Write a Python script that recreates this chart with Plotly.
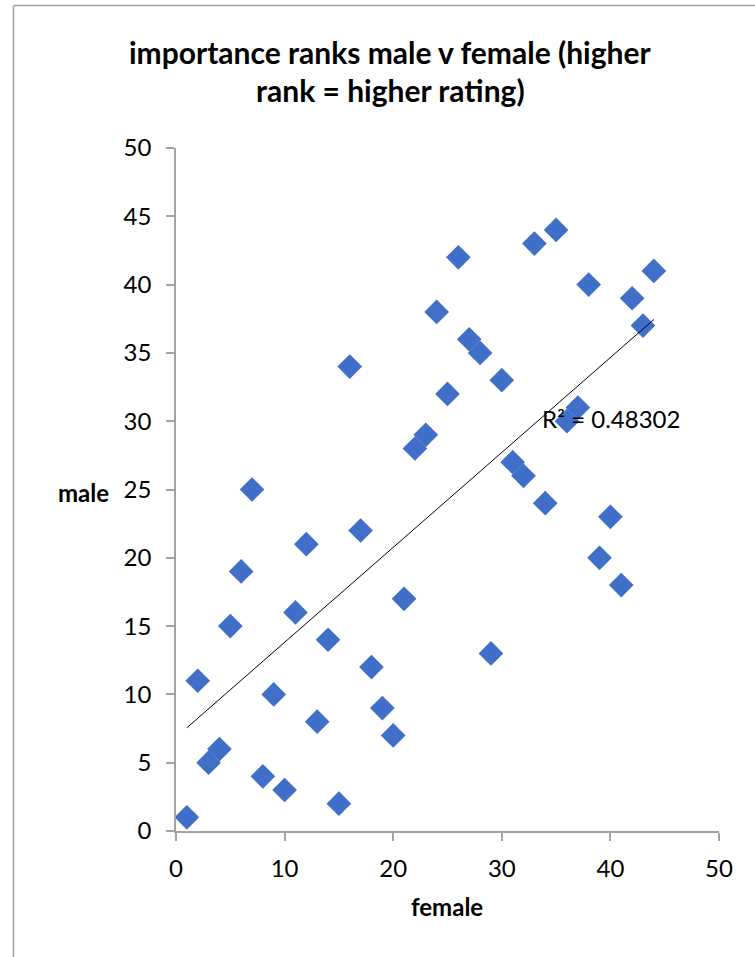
import numpy as np
import plotly.graph_objects as go

# Data (female rank, male rank)
female = list(range(1, 45))
male = [1, 11, 5, 6, 15, 19, 25, 4, 10, 3, 16, 21, 8, 14, 2, 34, 22, 12, 9, 7,
        17, 28, 29, 38, 32, 42, 36, 35, 13, 33, 27, 26, 43, 24, 44, 30, 31, 40,
        20, 23, 18, 39, 37, 41]
r2_label = "R² = 0.48302"
title_lines = ["importance ranks male v female (higher", "rank = higher rating)"]
x_ticks = [0, 10, 20, 30, 40, 50]
y_ticks = [0, 5, 10, 15, 20, 25, 30, 35, 40, 45, 50]

W, H = 755, 957
L, R, T, B = 176, 36, 148, 126
pw, ph = W - L - R, H - T - B

def px_x(p):
    return (p - L) / pw

def px_y(p):
    return (H - B - p) / ph

slope, intercept = np.polyfit(female, male, 1)
fx = np.array([min(female), max(female)])
fy = slope * fx + intercept

FONT = "Lato"
AX = "#a3a3a3"
FS = 24

fig = go.Figure()
fig.add_trace(go.Scatter(
    x=female, y=male, mode="markers",
    marker=dict(symbol="diamond", size=19, color="#3f6fc8",
                line=dict(width=0)),
    hoverinfo="skip", showlegend=False))
fig.add_trace(go.Scatter(
    x=fx, y=fy, mode="lines", line=dict(color="black", width=1),
    hoverinfo="skip", showlegend=False))

fig.update_layout(
    width=W, height=H,
    margin=dict(l=L, r=R, t=T, b=B, pad=0),
    paper_bgcolor="white", plot_bgcolor="white",
    font=dict(family=FONT, size=FS, color="black"),
    xaxis=dict(range=[0, 50], tickvals=x_ticks, showgrid=False, zeroline=False,
               showline=True, linecolor=AX, linewidth=1.5,
               ticks="outside", ticklen=8, tickcolor=AX, tickwidth=1.5,
               ticklabelstandoff=7,
               tickfont=dict(family=FONT, size=FS, color="black")),
    yaxis=dict(range=[0, 50], tickvals=y_ticks, showgrid=False, zeroline=False,
               showline=True, linecolor=AX, linewidth=1.5,
               ticks="outside", ticklen=8, tickcolor=AX, tickwidth=1.5,
               ticklabelstandoff=10,
               tickfont=dict(family=FONT, size=FS, color="black")),
    shapes=[
        dict(type="line", xref="paper", yref="paper",
             x0=px_x(13.5), x1=px_x(13.5), y0=px_y(970), y1=px_y(5.5),
             line=dict(color=AX, width=1.5)),
        dict(type="line", xref="paper", yref="paper",
             x0=px_x(13.5), x1=px_x(770), y0=px_y(5.5), y1=px_y(5.5),
             line=dict(color=AX, width=1.5)),
    ],
    annotations=[
        dict(text=title_lines[0], xref="paper", yref="paper",
             x=px_x(390.5), y=px_y(52), xanchor="center", yanchor="middle",
             showarrow=False, font=dict(family=FONT, size=30, color="black", weight="bold")),
        dict(text=title_lines[1], xref="paper", yref="paper",
             x=px_x(390.5), y=px_y(90), xanchor="center", yanchor="middle",
             showarrow=False, font=dict(family=FONT, size=30, color="black", weight="bold")),
        dict(text="male", xref="paper", yref="paper",
             x=px_x(83), y=px_y(492), xanchor="center", yanchor="middle",
             showarrow=False, font=dict(family=FONT, size=FS, color="black", weight="bold")),
        dict(text="female", xref="paper", yref="paper",
             x=px_x(447), y=px_y(907), xanchor="center", yanchor="middle",
             showarrow=False, font=dict(family=FONT, size=FS, color="black", weight="bold")),
        dict(text=r2_label, xref="x", yref="y",
             x=33.5, y=30.2, xanchor="left", yanchor="middle",
             showarrow=False, font=dict(family=FONT, size=FS, color="black")),
    ],
)

fig.write_html("out.html", config={"displayModeBar": False})
